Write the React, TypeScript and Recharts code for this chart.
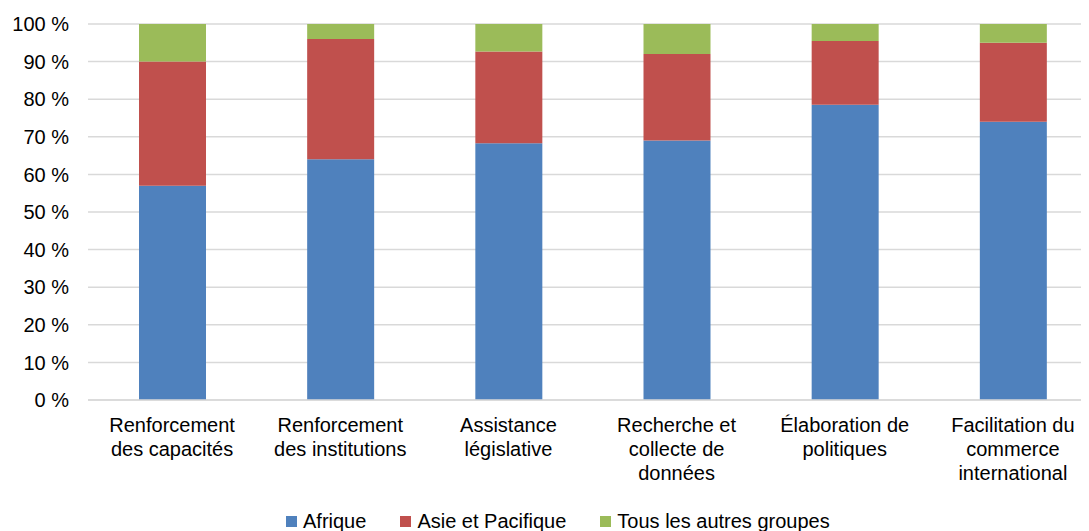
import React from 'react';
import { BarChart, Bar, XAxis, YAxis, CartesianGrid, Legend } from 'recharts';

const categories = [
  'Renforcement|des capacités',
  'Renforcement|des institutions',
  'Assistance|législative',
  'Recherche et|collecte de|données',
  'Élaboration de|politiques',
  'Facilitation du|commerce|international',
];
const afrique = [57, 64, 68.3, 69, 78.5, 74];
const asie = [33, 32, 24.4, 23, 17, 21];
const autres = [10, 4, 7.3, 8, 4.5, 5];
const yTicks = [0, 10, 20, 30, 40, 50, 60, 70, 80, 90, 100];

const series = [
  { key: 'afrique', name: 'Afrique', color: '#4F81BD' },
  { key: 'asie', name: 'Asie et Pacifique', color: '#C0504D' },
  { key: 'autres', name: 'Tous les autres groupes', color: '#9BBB59' },
];

const data = categories.map((c, i) => ({
  name: c,
  afrique: afrique[i],
  asie: asie[i],
  autres: autres[i],
}));

const FONT = '"Liberation Sans", Arial, sans-serif';

const XTick = (props: any) => {
  const { x, y, payload } = props;
  const lines = String(payload.value).split('|');
  return (
    <text x={x} y={y} textAnchor="middle" fill="#000" fontSize={20} fontFamily={FONT}>
      {lines.map((l, i) => (
        <tspan key={i} x={x} dy={i === 0 ? 24 : 24}>{l}</tspan>
      ))}
    </text>
  );
};

const LegendContent = () => (
  <div style={{ display: 'flex', alignItems: 'center', fontFamily: FONT, fontSize: 20, lineHeight: '22px', color: '#000', whiteSpace: 'nowrap' }}>
    {series.map((s, i) => (
      <div key={s.key} style={{ display: 'flex', alignItems: 'center', marginRight: i < series.length - 1 ? 34 : 0 }}>
        <span style={{ display: 'inline-block', width: 11, height: 11, background: s.color, marginRight: 6 }} />
        <span>{s.name}</span>
      </div>
    ))}
  </div>
);

export default function App() {
  return (
    <div style={{ width: 1081, height: 523, overflow: 'hidden' }}>
      <BarChart
        width={1089}
        height={523}
        data={data}
        margin={{ top: 16, right: 0, left: 0, bottom: 0 }}
        barSize={67}
      >
        <CartesianGrid vertical={false} stroke="#D9D9D9" strokeWidth={1.5} />
        <XAxis
          dataKey="name"
          height={131}
          tickLine={false}
          axisLine={{ stroke: '#D9D9D9', strokeWidth: 1.5 }}
          tick={<XTick />}
          interval={0}
        />
        <YAxis
          width={80}
          domain={[0, 100]}
          ticks={yTicks}
          tickFormatter={(v: number) => `${v} %`}
          tickLine={false}
          axisLine={false}
          tickMargin={13}
          tick={{ fill: '#000', fontSize: 20, fontFamily: FONT }}
        />
        <Legend
          verticalAlign="middle"
          align="center"
          layout="horizontal"
          content={<LegendContent />}
          wrapperStyle={{ top: 502, left: 278, width: 'auto', height: 22 }}
        />
        {series.map((s) => (
          <Bar
            key={s.key}
            dataKey={s.key}
            name={s.name}
            stackId="a"
            fill={s.color}
            isAnimationActive={false}
          />
        ))}
      </BarChart>
    </div>
  );
}
